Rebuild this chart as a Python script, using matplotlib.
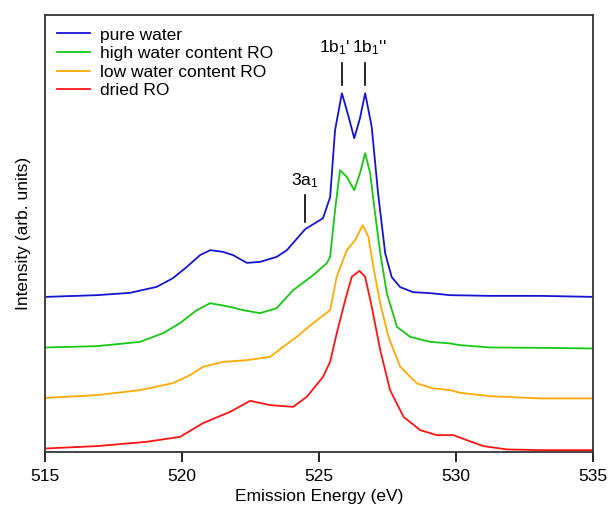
import numpy as np
import matplotlib
matplotlib.use("Agg")
import matplotlib.pyplot as plt

plt.rcParams['font.family'] = ['Liberation Sans', 'DejaVu Sans']
plt.rcParams['mathtext.fontset'] = 'custom'
plt.rcParams['mathtext.rm'] = 'Liberation Sans'
plt.rcParams['mathtext.it'] = 'Liberation Sans:italic'

# emission energy (eV) and intensity (arb. units, already vertically offset)
e_water = [515.06, 516.89, 518.10, 519.08, 519.67, 520.18, 520.66, 521.03, 521.50, 521.87,
           522.37, 522.85, 523.46, 523.83, 524.50, 525.15, 525.41, 525.59, 525.84, 526.07,
           526.29, 526.50, 526.69, 526.93, 527.16, 527.42, 527.66, 527.97, 528.44, 529.06,
           529.79, 531.25, 533.08, 534.97]
i_water = [155.3, 157, 159.3, 165.3, 174, 185.3, 197, 202, 200.3, 197,
           189.3, 190.3, 195.3, 202, 223, 234, 255, 322, 359, 337,
           314, 334, 359, 325, 259, 199, 175, 165, 160, 159,
           157, 156.3, 156.3, 155.3]

e_high = [515.06, 516.89, 518.47, 519.31, 519.93, 520.54, 521.03, 521.76, 522.23, 522.85,
          523.46, 524.06, 524.79, 525.29, 525.41, 525.59, 525.77, 526.02, 526.29, 526.50,
          526.69, 526.87, 527.05, 527.24, 527.48, 527.85, 528.33, 529.06, 529.79, 530.16,
          531.25, 533.08, 534.97]
i_high = [104.7, 106, 110.3, 119, 129, 142, 149, 145.3, 142, 139,
          144, 162, 177, 189, 195.3, 242, 282, 275.3, 262, 279,
          299, 279, 239, 199, 159, 125.3, 115.3, 110.3, 108.7, 107,
          104.7, 104.3, 103.7]

e_low = [515.06, 516.89, 518.47, 519.67, 520.30, 520.77, 521.50, 522.37, 523.22, 523.69,
         524.19, 524.79, 525.41, 525.65, 526.02, 526.32, 526.60, 526.81, 526.99, 527.24,
         527.54, 527.97, 528.58, 529.18, 529.79, 530.16, 531.25, 533.08, 534.97]
i_low = [54.3, 57, 62, 69, 77, 85.3, 90.3, 92, 95.3, 105.3,
         115.3, 129, 142, 175.3, 202, 212, 227, 215.3, 185.3, 148.7,
         115.3, 85.3, 68.7, 63.7, 62, 59.3, 56, 53.7, 53.7]

e_dried = [515.06, 516.89, 518.71, 519.93, 520.77, 521.76, 522.49, 523.22, 524.06, 524.56,
           525.15, 525.41, 525.65, 525.96, 526.20, 526.48, 526.69, 526.93, 527.24, 527.60,
           528.09, 528.70, 529.31, 529.91, 530.40, 531.01, 531.86, 533.08, 534.97]
i_dried = [3.7, 6, 10.3, 15.3, 29, 40.3, 51.3, 47, 45.3, 55.3,
           75.3, 90.3, 118.7, 152, 175.3, 181.3, 175.3, 145.3, 102, 62,
           35.3, 22, 17, 17, 12, 6, 2.7, 2, 2]

labels = ['pure water', 'high water content RO', 'low water content RO', 'dried RO']
colors = ['#1414d2', '#14c814', '#ffaa00', '#ff1414']

fig = plt.figure(figsize=(6.08, 5.08), dpi=100)
ax = fig.add_axes([0.074, 0.110, 0.901, 0.860])

series = [(e_water, i_water), (e_high, i_high), (e_low, i_low), (e_dried, i_dried)]
for (e, i), lab, c in zip(series, labels, colors):
    ax.plot(e, i, color=c, lw=1.3, label=lab)

# peak markers
ax.plot([525.84, 525.84], [367, 389], color='black', lw=1.2)
ax.plot([526.69, 526.69], [367, 389], color='black', lw=1.2)
ax.plot([524.50, 524.50], [230, 257], color='black', lw=1.2)
ax.text(525.56, 395, "1b$_1$'", ha='center', va='bottom', fontsize=12.5)
ax.text(526.85, 395, "1b$_1$''", ha='center', va='bottom', fontsize=12.5)
ax.text(524.50, 262, "3a$_1$", ha='center', va='bottom', fontsize=12.5)

ax.set_xlim(515, 535)
ax.set_ylim(0, 437)
ax.set_xticks([515, 520, 525, 530, 535])
ax.set_yticks([])
ax.tick_params(axis='x', direction='out', length=7, width=1.2, labelsize=12.5, pad=5)
for s in ax.spines.values():
    s.set_linewidth(1.3)
    s.set_color('#333333')
ax.set_xlabel('Emission Energy (eV)', fontsize=12.5, labelpad=4)
ax.set_ylabel('Intensity (arb. units)', fontsize=12.5, labelpad=10)

ax.legend(loc='upper left', frameon=False, fontsize=12.5, handlelength=1.9,
          labelspacing=0.2, borderaxespad=0.3, borderpad=0.4, handletextpad=0.55,
          bbox_to_anchor=(0.0, 1.0))

fig.savefig('out.png', dpi=100)
